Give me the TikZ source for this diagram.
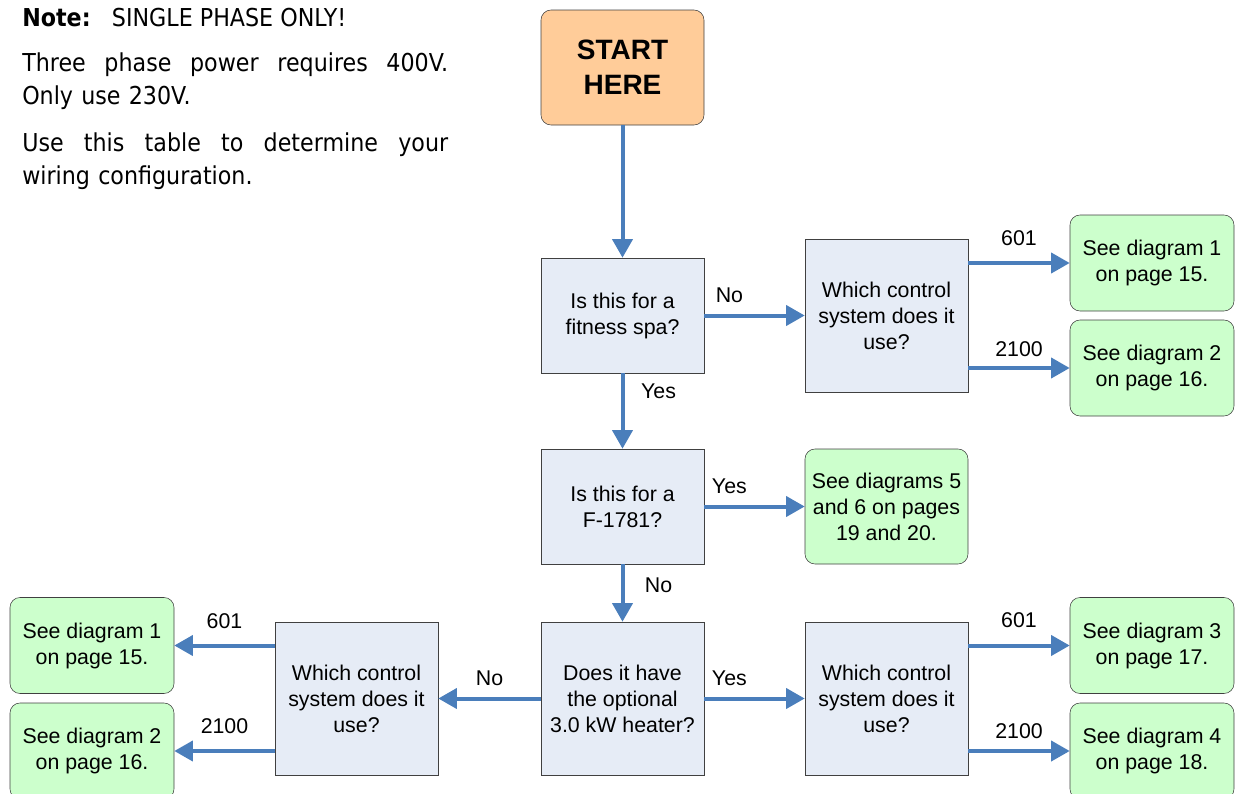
\documentclass[tikz,border=0pt]{standalone}
\usepackage{fontspec}
\usepackage{xcolor}
\setmainfont{Liberation Sans}
\newfontfamily\notefont[FakeStretch=0.9]{DejaVu Sans}
\usetikzlibrary{arrows.meta}

\definecolor{boxline}{HTML}{404040}
\definecolor{qblue}{HTML}{E6ECF6}
\definecolor{seegreen}{HTML}{CCFFCC}
\definecolor{startpeach}{HTML}{FFCC99}
\definecolor{flowblue}{HTML}{4A7EBB}

\tikzset{
    qbox/.style={draw=boxline, fill=qblue, inner sep=0pt, align=center,
        minimum width=122.25pt, minimum height=86.25pt,
        font=\fontsize{16}{19.5}\selectfont},
    tall/.style={minimum height=114.75pt},
    seebox/.style={qbox, fill=seegreen, rounded corners=7.5pt,
        minimum width=123pt, minimum height=72pt},
    flow/.style={draw=flowblue, line width=3pt, -{Triangle[width=15pt,length=14pt]}},
    lbl/.style={font=\fontsize{16}{19}\selectfont, inner sep=0pt},
    notetxt/.style={font=\notefont\fontsize{18.5}{25}\selectfont, inner sep=0pt, anchor=base west}
}

\begin{document}
\begin{tikzpicture}[x=0.75pt, y=-0.75pt]
    \useasboundingbox (0,0) rectangle (1235,793);

    % note on the left
    \node[notetxt] (note) at (22,26) {\textbf{Note:}\hspace{16pt}SINGLE PHASE ONLY!};
    \node[notetxt, text width=319.5pt, align=left] (phase) at (22,71)
        {\makebox[319.5pt][s]{Three\hfill phase\hfill power\hfill requires\hfill 400V.}\\Only use 230V.};
    \node[notetxt, text width=319.5pt, align=left] (table) at (22,151)
        {\makebox[319.5pt][s]{Use\hfill this\hfill table\hfill to\hfill determine\hfill your}\\wiring configuration.};

    % questions
    \node[qbox, fill=startpeach, rounded corners=7.5pt, font=\bfseries\fontsize{21}{26.25}\selectfont] (start) at (622.5,67.5) {START\\HERE};
    \node[qbox] (fitness) at (622.5,315.5) {Is this for a\\fitness spa?};
    \node[qbox] (model) at (622.5,506.5) {Is this for a\\F-1781?};
    \node[qbox, tall] (heater) at (622.5,698.5) {Does it have\\the optional\\3.0 kW heater?};
    \node[qbox, tall] (ctrla) at (886.5,315.5) {Which control\\system does it\\use?};
    \node[qbox, tall] (ctrlb) at (886.5,698.5) {Which control\\system does it\\use?};
    \node[qbox, tall] (ctrlc) at (356.5,698.5) {Which control\\system does it\\use?};

    % answers
    \node[seebox] (diaga) at (1152,263) {See diagram 1\\on page 15.};
    \node[seebox] (diagb) at (1152,368) {See diagram 2\\on page 16.};
    \node[seebox, minimum width=122.25pt, minimum height=86.25pt] (diage) at (886.5,506.5) {See diagrams 5\\and 6 on pages\\19 and 20.};
    \node[seebox] (diagc) at (1152,645.5) {See diagram 3\\on page 17.};
    \node[seebox] (diagd) at (1152,751) {See diagram 4\\on page 18.};
    \node[seebox] (diagf) at (92,645.5) {See diagram 1\\on page 15.};
    \node[seebox] (diagg) at (92,751) {See diagram 2\\on page 16.};

    % arrows
    \draw[flow] (start) -- (fitness);
    \draw[flow] (fitness) -- node[lbl, pos=.25, yshift=15pt] {No} (ctrla);
    \draw[flow] (fitness) -- node[lbl, pos=.24, xshift=27pt] {Yes} (model);
    \draw[flow] (ctrla.east |- diaga) -- node[lbl, yshift=18.5pt] {601} (diaga);
    \draw[flow] (ctrla.east |- diagb) -- node[lbl, yshift=14.5pt] {2100} (diagb);
    \draw[flow] (model) -- node[lbl, pos=.25, yshift=15.5pt] {Yes} (diage);
    \draw[flow] (model) -- node[lbl, pos=.36, xshift=27pt] {No} (heater);
    \draw[flow] (heater) -- node[lbl, pos=.25, yshift=15pt] {Yes} (ctrlb);
    \draw[flow] (heater) -- node[lbl, yshift=15pt] {No} (ctrlc);
    \draw[flow] (ctrlb.east |- diagc) -- node[lbl, yshift=18.75pt] {601} (diagc);
    \draw[flow] (ctrlb.east |- diagd) -- node[lbl, yshift=15pt] {2100} (diagd);
    \draw[flow] (ctrlc.west |- diagf) -- node[lbl, yshift=18pt] {601} (diagf);
    \draw[flow] (ctrlc.west |- diagg) -- node[lbl, yshift=18.75pt] {2100} (diagg);
\end{tikzpicture}
\end{document}
